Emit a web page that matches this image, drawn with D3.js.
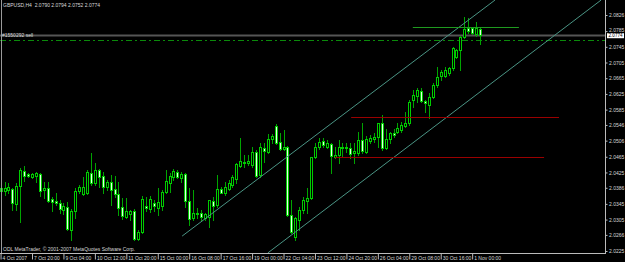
<!DOCTYPE html>
<html>
<head>
<meta charset="utf-8">
<script src="https://cdnjs.cloudflare.com/ajax/libs/d3/7.8.5/d3.min.js"></script>
<style>
  body { margin: 0; background: #000; }
  svg { display: block; }
  text { font-family: "Liberation Sans", Arial, sans-serif; }
</style>
</head>
<body>
<div id="chart"></div>
<script>
// GBPUSD H4 bars, oldest first
const opens = [2.0385,2.0378,2.0380,2.0383,2.0345,2.0391,2.0429,2.0421,2.0413,2.0416,
  2.0421,2.0380,2.0385,2.0357,2.0352,2.0347,2.0329,2.0337,2.0279,2.0327,
  2.0378,2.0370,2.0373,2.0424,2.0398,2.0431,2.0416,2.0388,2.0401,2.0383,
  2.0370,2.0337,2.0312,2.0319,2.0327,2.0256,2.0273,2.0340,2.0332,2.0347,
  2.0335,2.0340,2.0375,2.0398,2.0413,2.0426,2.0411,2.0421,2.0352,2.0309,
  2.0322,2.0322,2.0309,2.0312,2.0352,2.0342,2.0383,2.0373,2.0383,2.0393,
  2.0408,2.0441,2.0452,2.0449,2.0444,2.0477,2.0419,2.0487,2.0477,2.0510,
  2.0543,2.0503,2.0485,2.0490,2.0317,2.0261,2.0304,2.0329,2.0352,2.0360,
  2.0464,2.0490,2.0505,2.0490,2.0497,2.0464,2.0469,2.0490,2.0490,2.0487,
  2.0475,2.0475,2.0508,2.0477,2.0505,2.0510,2.0515,2.0551,2.0487,2.0510,
  2.0525,2.0528,2.0533,2.0543,2.0551,2.0610,2.0620,2.0632,2.0607,2.0597,
  2.0617,2.0648,2.0671,2.0671,2.0678,2.0691,2.0719,2.0737,2.0770,2.0793,
  2.0793,2.0778,2.0790];
const highs = [2.0391,2.0401,2.0398,2.0385,2.0398,2.0436,2.0441,2.0424,2.0424,2.0426,
  2.0424,2.0401,2.0401,2.0363,2.0373,2.0355,2.0347,2.0350,2.0332,2.0385,
  2.0393,2.0413,2.0431,2.0475,2.0449,2.0434,2.0426,2.0406,2.0419,2.0416,
  2.0401,2.0360,2.0360,2.0329,2.0332,2.0279,2.0365,2.0363,2.0365,2.0355,
  2.0385,2.0380,2.0431,2.0424,2.0434,2.0431,2.0426,2.0424,2.0385,2.0380,
  2.0335,2.0329,2.0322,2.0355,2.0363,2.0419,2.0388,2.0401,2.0406,2.0419,
  2.0449,2.0513,2.0469,2.0469,2.0490,2.0482,2.0500,2.0500,2.0523,2.0523,
  2.0548,2.0525,2.0533,2.0492,2.0355,2.0312,2.0337,2.0363,2.0385,2.0464,
  2.0500,2.0513,2.0513,2.0508,2.0500,2.0490,2.0508,2.0500,2.0500,2.0500,
  2.0500,2.0528,2.0551,2.0518,2.0520,2.0525,2.0551,2.0571,2.0536,2.0528,
  2.0536,2.0551,2.0554,2.0579,2.0610,2.0635,2.0640,2.0640,2.0610,2.0627,
  2.0653,2.0694,2.0686,2.0694,2.0694,2.0745,2.0739,2.0773,2.0821,2.0818,
  2.0795,2.0808,2.0794];
const lows = [2.0373,2.0368,2.0373,2.0329,2.0329,2.0299,2.0403,2.0413,2.0411,2.0401,
  2.0365,2.0360,2.0350,2.0327,2.0342,2.0322,2.0319,2.0279,2.0253,2.0309,
  2.0373,2.0368,2.0370,2.0393,2.0393,2.0388,2.0373,2.0380,2.0342,2.0363,
  2.0317,2.0307,2.0309,2.0304,2.0253,2.0253,2.0271,2.0327,2.0324,2.0327,
  2.0317,2.0329,2.0373,2.0375,2.0406,2.0411,2.0401,2.0337,2.0291,2.0304,
  2.0309,2.0304,2.0304,2.0286,2.0304,2.0337,2.0373,2.0368,2.0380,2.0388,
  2.0398,2.0439,2.0439,2.0444,2.0439,2.0413,2.0413,2.0452,2.0475,2.0500,
  2.0497,2.0482,2.0482,2.0314,2.0271,2.0253,2.0279,2.0322,2.0322,2.0357,
  2.0462,2.0485,2.0490,2.0487,2.0424,2.0462,2.0449,2.0464,2.0477,2.0462,
  2.0449,2.0469,2.0475,2.0475,2.0500,2.0503,2.0490,2.0482,2.0485,2.0500,
  2.0515,2.0525,2.0528,2.0541,2.0546,2.0592,2.0604,2.0604,2.0579,2.0564,
  2.0615,2.0643,2.0661,2.0668,2.0673,2.0686,2.0717,2.0686,2.0767,2.0780,
  2.0778,2.0773,2.0752];
const closes = [2.0378,2.0385,2.0388,2.0347,2.0391,2.0431,2.0416,2.0416,2.0421,2.0424,
  2.0378,2.0385,2.0352,2.0350,2.0347,2.0332,2.0340,2.0281,2.0327,2.0378,
  2.0388,2.0388,2.0426,2.0398,2.0431,2.0413,2.0388,2.0401,2.0380,2.0370,
  2.0335,2.0314,2.0327,2.0327,2.0256,2.0273,2.0357,2.0335,2.0357,2.0340,
  2.0350,2.0375,2.0403,2.0416,2.0429,2.0413,2.0421,2.0352,2.0307,2.0322,
  2.0319,2.0312,2.0319,2.0355,2.0340,2.0383,2.0373,2.0388,2.0398,2.0413,
  2.0447,2.0454,2.0449,2.0454,2.0477,2.0416,2.0490,2.0480,2.0510,2.0518,
  2.0500,2.0485,2.0490,2.0317,2.0273,2.0309,2.0329,2.0355,2.0360,2.0464,
  2.0490,2.0503,2.0495,2.0500,2.0467,2.0469,2.0490,2.0487,2.0487,2.0472,
  2.0480,2.0508,2.0480,2.0510,2.0513,2.0515,2.0551,2.0487,2.0510,2.0525,
  2.0520,2.0538,2.0546,2.0551,2.0604,2.0622,2.0635,2.0607,2.0602,2.0617,
  2.0648,2.0668,2.0681,2.0686,2.0691,2.0742,2.0737,2.0770,2.0790,2.0785,
  2.0780,2.0793,2.0774];

// price scale labels (right) and time labels (bottom, every 8 bars)
const priceTicks = [2.0826,2.0785,2.0745,2.0705,2.0665,2.0625,2.0585,2.0546,
  2.0506,2.0465,2.0425,2.0386,2.0345,2.0305,2.0266,2.0225];
const timeLabels = ["4 Oct 2007","7 Oct 20:00","9 Oct 04:00","10 Oct 12:00","11 Oct 20:00",
  "15 Oct 00:00","16 Oct 08:00","17 Oct 16:00","19 Oct 00:00","22 Oct 04:00",
  "23 Oct 12:00","24 Oct 20:00","26 Oct 04:00","29 Oct 08:00","30 Oct 16:00","1 Nov 00:00"];
const labelStep = 8;

// drawn objects: [barIndex, price] end points
const channelUpper = [[46.2, 2.0263], [125.8, 2.0864]];
const channelLower = [[68.0, 2.0220], [152.8, 2.0864]];
const greenLevel = { price: 2.0795, from: 104.9, to: 131.9 };
const redLevels = [{ price: 2.0566, from: 89.2, to: 142.1 }, { price: 2.0464, from: 85.1, to: 138.3 }];
const orderPrice = 2.0763;
const bidPrice = closes[closes.length - 1];

const w = 625, h = 262;
const plotW = 605.5, plotH = 253.5;

let svg = d3.select("#chart").append("svg")
    .attr("width", w).attr("height", h)
    .style("background", "#000");

let x = d3.scaleLinear().domain([0, 122]).range([0.57, 480.03]);
let y = d3.scaleLinear().domain([2.0225, 2.0826]).range([251, 15]);

svg.append("clipPath").attr("id", "plot")
    .append("rect").attr("x", 0).attr("y", 0).attr("width", plotW).attr("height", plotH);

let g = svg.append("g").attr("clip-path", "url(#plot)");

// bid line + order line
g.append("line")
    .attr("x1", 0).attr("x2", plotW)
    .attr("y1", y(bidPrice)).attr("y2", y(bidPrice))
    .attr("stroke", "#555").attr("stroke-width", 2);
g.append("line")
    .attr("x1", 0).attr("x2", plotW)
    .attr("y1", Math.round(y(orderPrice)) + 0.5).attr("y2", Math.round(y(orderPrice)) + 0.5)
    .attr("stroke", "#0a8a0a").attr("stroke-dasharray", "6,3,2,3");

// candles
let bars = d3.range(opens.length).map(i => ({ i: i, o: opens[i], h: highs[i], l: lows[i], c: closes[i] }));
let cx = d => Math.round(x(d.i)) + 0.5;

g.append("g").selectAll("line").data(bars).enter().append("line")
    .attr("x1", cx).attr("x2", cx)
    .attr("y1", d => Math.round(y(d.h))).attr("y2", d => Math.round(y(d.l)) + 1)
    .attr("stroke", "#00a400");

g.append("g").selectAll("rect").data(bars).enter().append("rect")
    .attr("x", d => cx(d) - 1)
    .attr("y", d => Math.round(y(Math.max(d.o, d.c))) + 0.5)
    .attr("width", 2)
    .attr("height", d => Math.max(0, Math.round(y(Math.min(d.o, d.c))) - Math.round(y(Math.max(d.o, d.c)))))
    .attr("fill", d => d.c >= d.o ? "#000" : "#e4ffe4")
    .attr("stroke", "#00cc00");

// channel
[channelUpper, channelLower].forEach(pts => {
  g.append("line")
      .attr("x1", x(pts[0][0])).attr("y1", y(pts[0][1]))
      .attr("x2", x(pts[1][0])).attr("y2", y(pts[1][1]))
      .attr("stroke", "#4a9484").attr("stroke-width", 1);
});

// horizontal levels
g.append("g").selectAll("line").data(redLevels).enter().append("line")
    .attr("x1", d => x(d.from)).attr("x2", d => x(d.to))
    .attr("y1", d => Math.round(y(d.price)) + 0.5).attr("y2", d => Math.round(y(d.price)) + 0.5)
    .attr("stroke", "#9a0000");
g.append("line")
    .attr("x1", x(greenLevel.from)).attr("x2", x(greenLevel.to))
    .attr("y1", Math.round(y(greenLevel.price)) + 0.5).attr("y2", Math.round(y(greenLevel.price)) + 0.5)
    .attr("stroke", "#1f9a1f");

// frame
svg.append("line").attr("x1", 1.5).attr("x2", 1.5).attr("y1", 0).attr("y2", plotH)
    .attr("stroke", "#9a9a9a");

// price axis
let yAxis = svg.append("g").attr("transform", "translate(" + plotW + ",0)")
    .call(d3.axisRight(y).tickValues(priceTicks).tickSize(2).tickPadding(1.5)
      .tickFormat(d3.format(".4f")));
yAxis.select(".domain").attr("d", "M0,0V" + plotH).attr("stroke", "#bbb");
yAxis.selectAll(".tick line").attr("stroke", "#bbb");
yAxis.selectAll("text").attr("fill", "#d8d8d8").style("font-size", "5px")
    .style("font-family", "'Liberation Sans', Arial, sans-serif");
// the current price marker covers the neighbouring label, as in the terminal
yAxis.selectAll(".tick text").attr("dy", (d, k) => k === 1 ? "0.1em" : "0.32em");

// time axis
let tickBars = timeLabels.map((t, k) => k * labelStep);
let xAxis = svg.append("g").attr("transform", "translate(0," + plotH + ")")
    .call(d3.axisBottom(x).tickValues(tickBars).tickSize(6)
      .tickFormat((d, k) => timeLabels[k]));
xAxis.select(".domain").attr("d", "M0,0H" + (plotW + 0.5)).attr("stroke", "#bbb");
xAxis.selectAll(".tick line").attr("stroke", "#bbb");
xAxis.selectAll("text").attr("fill", "#d8d8d8").style("font-size", "5px")
    .style("font-family", "'Liberation Sans', Arial, sans-serif")
    .attr("text-anchor", "start").attr("x", 1.5).attr("y", 3).attr("dy", "0.71em");

// current price marker
svg.append("rect")
    .attr("x", plotW + 1.5).attr("y", y(bidPrice) - 2.2)
    .attr("width", 17).attr("height", 5).attr("fill", "#fff");
svg.append("text")
    .attr("x", plotW + 3).attr("y", y(bidPrice)).attr("dy", "0.4em")
    .attr("fill", "#000").style("font-size", "4.6px")
    .text(d3.format(".4f")(bidPrice));

// texts
svg.append("text").attr("x", 3).attr("y", 7)
    .attr("fill", "#d8d8d8").style("font-size", "5px").attr("xml:space", "preserve")
    .text("GBPUSD,H4  " + [opens, highs, lows, closes].map(a => d3.format(".4f")(a[a.length - 1])).join(" "));
svg.append("text").attr("x", 2).attr("y", y(orderPrice) - 3)
    .attr("fill", "#d8d8d8").style("font-size", "5px")
    .text("#1550292 sell");
svg.append("text").attr("x", 3).attr("y", 251)
    .attr("fill", "#d8d8d8").style("font-size", "5px")
    .text("ODL MetaTrader, \u00a9 2001-2007 MetaQuotes Software Corp.");
</script>
</body>
</html>
